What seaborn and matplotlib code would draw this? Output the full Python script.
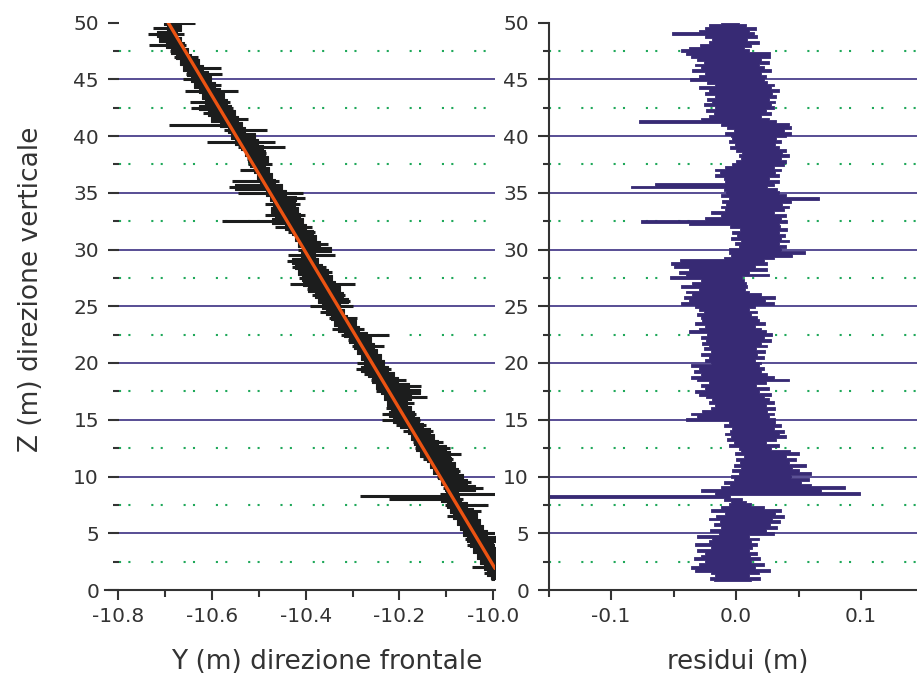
import numpy as np
import pandas as pd
import matplotlib
matplotlib.use("Agg")
import matplotlib.pyplot as plt
import seaborn as sns
from matplotlib.ticker import MultipleLocator, FormatStrFormatter

sns.set_style("white")
plt.rcParams["font.family"] = ["DejaVu Sans"]
plt.rcParams["axes.unicode_minus"] = False

# ------------------------------------------------------------------ data
# linear fit of Y against Z (orange line)
fit_intercept = -9.968
fit_slope = -0.01452
fit_depth = [1.9, 50.1]

# left panel: measured profile, deviation band around the fit (m)
data_depth = [1.0, 1.5, 2.0, 2.5, 3.0, 3.5, 4.0, 4.5, 5.0, 5.5, 6.0, 6.5, 7.0, 7.5, 8.0, 8.25,
              8.5, 9.0, 9.5, 10.0, 10.5, 11.0, 11.5, 12.0, 12.5, 13.0, 13.5, 14.0, 14.5, 15.0,
              15.5, 16.0, 16.5, 17.0, 17.5, 18.0, 18.5, 19.0, 19.5, 20.0, 20.5, 21.0, 21.5,
              22.0, 22.5, 23.0, 23.5, 24.0, 24.5, 25.0, 25.5, 26.0, 26.5, 27.0, 27.5, 28.0,
              28.5, 29.0, 29.5, 30.0, 30.5, 31.0, 31.5, 32.0, 32.5, 33.0, 33.5, 34.0, 34.5,
              35.0, 35.5, 36.0, 36.5, 37.0, 37.5, 38.0, 38.5, 39.0, 39.5, 40.0, 40.5, 41.0,
              41.5, 42.0, 42.5, 43.0, 43.5, 44.0, 44.5, 45.0, 45.5, 46.0, 46.5, 47.0, 47.5,
              48.0, 48.5, 49.0, 49.5, 50.0]
data_dev_lo = [-0.022, -0.030, -0.048, -0.023, -0.023, -0.023, -0.030, -0.026, -0.023, -0.023,
               -0.022, -0.036, -0.022, -0.026, -0.139, -0.196, -0.022, -0.008, -0.004, -0.007,
               -0.007, -0.007, -0.014, -0.014, -0.018, -0.014, -0.011, -0.021, -0.028, -0.052,
               -0.043, -0.028, -0.018, -0.018, -0.028, -0.021, -0.024, -0.031, -0.042, -0.031,
               -0.017, -0.017, -0.020, -0.023, -0.030, -0.041, -0.030, -0.034, -0.045, -0.059,
               -0.035, -0.042, -0.045, -0.073, -0.048, -0.041, -0.048, -0.052, -0.041, -0.013,
               -0.005, -0.005, -0.012, -0.033, -0.140, -0.040, -0.019, -0.026, -0.008, -0.068,
               -0.081, -0.067, -0.006, -0.035, -0.010, -0.006, -0.003, -0.010, -0.070, -0.010,
               -0.019, -0.129, -0.031, -0.042, -0.060, -0.055, -0.022, -0.051, -0.024, -0.040,
               -0.028, -0.026, -0.026, -0.030, -0.033, -0.069, -0.041, -0.058, -0.039, -0.009]
data_dev_hi = [0.010, 0.020, 0.023, 0.030, 0.026, 0.026, 0.052, 0.055, 0.060, 0.027,
               0.028, 0.028, 0.045, 0.067, 0.021, 0.016, 0.099, 0.077, 0.060, 0.050,
               0.050, 0.046, 0.050, 0.074, 0.057, 0.050, 0.039, 0.043, 0.036, 0.029,
               0.028, 0.025, 0.039, 0.074, 0.067, 0.075, 0.050, 0.033, 0.033, 0.026,
               0.026, 0.026, 0.048, 0.026, 0.072, 0.026, 0.016, 0.026, 0.005, 0.033,
               0.033, 0.029, 0.026, 0.065, 0.023, 0.030, 0.026, 0.016, 0.058, 0.058,
               0.059, 0.041, 0.045, 0.045, 0.034, 0.045, 0.038, 0.049, 0.067, 0.070,
               0.033, 0.033, 0.026, 0.026, 0.040, 0.040, 0.043, 0.089, 0.075, 0.040,
               0.073, 0.027, 0.047, 0.026, 0.029, 0.030, 0.024, 0.062, 0.033, 0.020,
               0.050, 0.055, 0.016, 0.020, 0.006, 0.009, 0.005, 0.020, 0.021, 0.058]

# right panel: residuals band (m)
res_depth = [0.75,
             1.0, 1.25, 1.5, 1.75, 2.0, 2.25, 2.5, 2.75, 3.0, 3.25, 3.5, 3.75,
             4.0, 4.25, 4.5, 4.75, 5.0, 5.25, 5.5, 5.75, 6.0, 6.25, 6.5, 6.75,
             7.0, 7.25, 7.5, 7.75, 8.0, 8.25, 8.5, 8.75, 9.0, 9.25, 9.5, 9.75,
             10.0, 10.25, 10.5, 10.75, 11.0, 11.25, 11.5, 11.75, 12.0, 12.25, 12.5, 12.75,
             13.0, 13.25, 13.5, 13.75, 14.0, 14.25, 14.5, 14.75, 15.0, 15.25, 15.5, 15.75,
             16.0, 16.25, 16.5, 16.75, 17.0, 17.25, 17.5, 17.75, 18.0, 18.25, 18.5, 18.75,
             19.0, 19.25, 19.5, 19.75, 20.0, 20.25, 20.5, 20.75, 21.0, 21.25, 21.5, 21.75,
             22.0, 22.25, 22.5, 22.75, 23.0, 23.25, 23.5, 23.75, 24.0, 24.25, 24.5, 24.75,
             25.0, 25.25, 25.5, 25.75, 26.0, 26.25, 26.5, 26.75, 27.0, 27.25, 27.5, 27.75,
             28.0, 28.25, 28.5, 28.75, 29.0, 29.25, 29.5, 29.75, 30.0, 30.25, 30.5, 30.75,
             31.0, 31.25, 31.5, 31.75, 32.0, 32.25, 32.5, 32.75, 33.0, 33.25, 33.5, 33.75,
             34.0, 34.25, 34.5, 34.75, 35.0, 35.25, 35.5, 35.75, 36.0, 36.25, 36.5, 36.75,
             37.0, 37.25, 37.5, 37.75, 38.0, 38.25, 38.5, 38.75, 39.0, 39.25, 39.5, 39.75,
             40.0, 40.25, 40.5, 40.75, 41.0, 41.25, 41.5, 41.75, 42.0, 42.25, 42.5, 42.75,
             43.0, 43.25, 43.5, 43.75, 44.0, 44.25, 44.5, 44.75, 45.0, 45.25, 45.5, 45.75,
             46.0, 46.25, 46.5, 46.75, 47.0, 47.25, 47.5, 47.75, 48.0, 48.25, 48.5, 48.75,
             49.0, 49.25, 49.5, 49.75,
             50.0]
res_lo = [-0.018,
          -0.021, -0.017, -0.020, -0.033, -0.036, -0.030, -0.025, -0.034,
          -0.028, -0.025, -0.031, -0.020, -0.033, -0.022, -0.019, -0.031,
          -0.014, -0.021, -0.012, -0.018, -0.013, -0.022, -0.016, -0.009,
          -0.020, -0.012, -0.006, -0.004, -0.010, -0.190, -0.017, -0.028,
          -0.012, -0.005, -0.010, -0.002, -0.004, 0.002, -0.003, 0.004,
          -0.002, 0.003, 0.000, 0.006, -0.001, 0.004, 0.002, -0.006,
          -0.002, -0.007, -0.004, -0.009, -0.005, -0.003, -0.010, -0.006,
          -0.040, -0.031, -0.036, -0.027, -0.020, -0.017, -0.022, -0.019,
          -0.024, -0.030, -0.033, -0.025, -0.028, -0.022, -0.031, -0.036,
          -0.028, -0.034, -0.030, -0.036, -0.020, -0.025, -0.022, -0.028,
          -0.020, -0.026, -0.022, -0.027, -0.024, -0.028, -0.023, -0.038,
          -0.030, -0.025, -0.033, -0.027, -0.028, -0.031, -0.026, -0.030,
          -0.033, -0.044, -0.038, -0.042, -0.035, -0.040, -0.030, -0.044,
          -0.035, -0.028, -0.053, -0.040, -0.046, -0.038, -0.050, -0.052,
          -0.045, -0.010, -0.004, -0.006, -0.006, 0.002, -0.001, 0.004,
          -0.004, 0.001, -0.003, 0.003, -0.005, -0.038, -0.076, -0.025,
          -0.012, -0.020, -0.009, -0.012, -0.008, -0.011, -0.006, -0.012,
          -0.008, -0.010, -0.084, -0.065, -0.009, -0.010, -0.017, -0.013,
          -0.017, -0.009, -0.003, 0.000, 0.004, 0.002, 0.005, 0.000,
          -0.005, -0.001, -0.006, -0.003, -0.004, -0.009, -0.002, -0.007,
          -0.012, -0.078, -0.028, -0.022, -0.018, -0.024, -0.017, -0.026,
          -0.019, -0.023, -0.017, -0.025, -0.022, -0.030, -0.017, -0.023,
          -0.037, -0.030, -0.025, -0.035, -0.028, -0.033, -0.026, -0.031,
          -0.036, -0.040, -0.044, -0.038, -0.029, -0.022, -0.019, -0.025,
          -0.051, -0.030, -0.025, -0.022,
          -0.012]
res_hi = [0.012,
          0.019, 0.010, 0.018, 0.027, 0.015, 0.022, 0.012, 0.019,
          0.011, 0.017, 0.010, 0.013, 0.017, 0.012, 0.018, 0.010,
          0.030, 0.024, 0.033, 0.027, 0.035, 0.029, 0.038, 0.031,
          0.036, 0.022, 0.012, 0.008, 0.005, -0.005, 0.099, 0.068,
          0.087, 0.060, 0.052, 0.058, 0.044, 0.060, 0.050, 0.045,
          0.056, 0.042, 0.048, 0.040, 0.050, 0.043, 0.028, 0.034,
          0.024, 0.032, 0.040, 0.034, 0.038, 0.030, 0.036, 0.031,
          0.031, 0.026, 0.030, 0.025, 0.031, 0.024, 0.030, 0.026,
          0.022, 0.028, 0.018, 0.026, 0.016, 0.024, 0.042, 0.030,
          0.025, 0.020, 0.022, 0.018, 0.020, 0.015, 0.022, 0.017,
          0.023, 0.016, 0.025, 0.020, 0.028, 0.022, 0.029, 0.024,
          0.020, 0.015, 0.023, 0.018, 0.017, 0.012, 0.017, 0.010,
          0.015, 0.030, 0.023, 0.031, 0.020, 0.010, 0.007, 0.009,
          0.008, 0.006, 0.005, 0.026, 0.010, 0.025, 0.015, 0.025,
          0.022, 0.030, 0.045, 0.055, 0.036, 0.040, 0.034, 0.042,
          0.036, 0.039, 0.034, 0.041, 0.035, 0.034, 0.041, 0.036,
          0.040, 0.030, 0.038, 0.042, 0.037, 0.044, 0.066, 0.040,
          0.034, 0.033, 0.025, 0.030, 0.034, 0.026, 0.034, 0.031,
          0.036, 0.030, 0.038, 0.040, 0.036, 0.042, 0.037, 0.040,
          0.034, 0.031, 0.036, 0.032, 0.040, 0.044, 0.038, 0.044,
          0.042, 0.032, 0.026, 0.020, 0.028, 0.024, 0.030, 0.028,
          0.031, 0.026, 0.032, 0.029, 0.034, 0.028, 0.030, 0.025,
          0.022, 0.024, 0.020, 0.028, 0.022, 0.018, 0.026, 0.020,
          0.027, 0.027, 0.010, 0.006, 0.012, 0.018, 0.009, 0.017,
          0.014, 0.010, 0.016, 0.008,
          0.002]

y_major_ticks = [0, 5, 10, 15, 20, 25, 30, 35, 40, 45, 50]
grid_major = [5, 10, 15, 20, 25, 30, 35, 40, 45]
grid_minor = [2.5, 7.5, 12.5, 17.5, 22.5, 27.5, 32.5, 37.5, 42.5, 47.5]
left_xticks = [-10.8, -10.6, -10.4, -10.2, -10.0]
right_xticks = [-0.1, 0.0, 0.1]

ylabel_text = "Z (m) direzione verticale"
xlabel_left = "Y (m) direzione frontale"
xlabel_right = "residui (m)"

# ------------------------------------------------------------------ style
C_TXT = "#333333"
C_AX = "#333333"
C_NAVY = "#3b2f82"
C_GREEN = "#1fa85a"
C_BLACK = "#1c1d1d"
C_ORANGE = "#ec5312"
C_RES = "#372a74"

W, H = 917, 678
fig = plt.figure(figsize=(W / 100, H / 100), dpi=100)
ax_l = fig.add_axes([118.5 / W, 1 - 590 / H, 376.8 / W, 567.5 / H])
ax_r = fig.add_axes([548.5 / W, 1 - 590 / H, 368.5 / W, 567.5 / H])

for ax in (ax_l, ax_r):
    for g in grid_major:
        ax.axhline(g, color=C_NAVY, lw=1.2, zorder=0.5)
    for g in grid_minor:
        ax.axhline(g, color=C_GREEN, lw=1.5, ls=(0, (1, 3.5, 1, 10)), zorder=0.5)

# left panel: measured band (solid core + thin horizontal excursions) and fit line
df_data = pd.DataFrame({"z": data_depth, "lo": data_dev_lo, "hi": data_dev_hi})
df_data["fit"] = fit_intercept + fit_slope * df_data["z"]
df_data["x_lo"] = df_data["fit"] + df_data["lo"]
df_data["x_hi"] = df_data["fit"] + df_data["hi"]
core_lo = df_data["fit"] + df_data["lo"].rolling(3, center=True, min_periods=1).max()
core_hi = df_data["fit"] + df_data["hi"].rolling(3, center=True, min_periods=1).min()
ax_l.fill_betweenx(df_data["z"], core_lo, core_hi, step="mid",
                   facecolor=C_BLACK, edgecolor=C_BLACK, lw=0.8, zorder=2)
ax_l.hlines(df_data["z"], df_data["x_lo"], df_data["x_hi"], color=C_BLACK, lw=2.2, zorder=2)
df_fit = pd.DataFrame({"z": fit_depth})
df_fit["y"] = fit_intercept + fit_slope * df_fit["z"]
sns.lineplot(data=df_fit, x="y", y="z", sort=False, color=C_ORANGE, lw=2.4, ax=ax_l, zorder=3)

# right panel: residual band
df_res = pd.DataFrame({"z": res_depth, "lo": res_lo, "hi": res_hi})
ax_r.fill_betweenx(df_res["z"], df_res["lo"], df_res["hi"], step="mid",
                   facecolor=C_RES, edgecolor=C_RES, lw=0.6, zorder=2)

ax_l.set_xlim(-10.8, -9.995)
ax_r.set_xlim(-0.15, 0.1448)
for ax in (ax_l, ax_r):
    ax.set_ylim(0, 50)
    ax.set_yticks(y_major_ticks)
    ax.yaxis.set_minor_locator(MultipleLocator(2.5))
    for s in ("top", "right"):
        ax.spines[s].set_visible(False)
    ax.spines["bottom"].set_color(C_AX)
    ax.spines["bottom"].set_linewidth(1.5)
    ax.tick_params(axis="both", which="both", direction="out", colors=C_AX, width=1.5,
                   labelcolor=C_TXT, labelsize=14.5)
    ax.tick_params(axis="y", which="major", length=8, pad=6, left=True)
    ax.tick_params(axis="y", which="minor", length=4, left=True)
    ax.tick_params(axis="x", which="major", length=7, pad=5, bottom=True)
    ax.tick_params(axis="x", which="minor", length=5, bottom=True)
    ax.set_facecolor("white")
    ax.set_xlabel("")
    ax.set_ylabel("")

ax_l.spines["left"].set_visible(False)
ax_r.spines["left"].set_color(C_AX)
ax_r.spines["left"].set_linewidth(1.5)
ax_l.spines["bottom"].set_bounds(-10.828, -9.995)

ax_l.set_xticks(left_xticks)
ax_l.xaxis.set_minor_locator(MultipleLocator(0.1))
ax_l.xaxis.set_major_formatter(FormatStrFormatter("%.1f"))
ax_r.set_xticks(right_xticks)
ax_r.xaxis.set_minor_locator(MultipleLocator(0.05))
ax_r.xaxis.set_major_formatter(FormatStrFormatter("%.1f"))
ax_l.yaxis.set_major_formatter(FormatStrFormatter("%d"))
ax_r.yaxis.set_major_formatter(FormatStrFormatter("%d"))

ax_l.set_xlabel(xlabel_left, fontsize=19, color=C_TXT)
ax_r.set_xlabel(xlabel_right, fontsize=18.7, color=C_TXT)
ax_l.set_ylabel(ylabel_text, fontsize=19, color=C_TXT)
ax_l.xaxis.set_label_coords(0.552, -0.127)
ax_l.xaxis.label.set_verticalalignment("center")
ax_r.xaxis.set_label_coords(0.514, -0.127)
ax_r.xaxis.label.set_verticalalignment("center")
ax_l.yaxis.set_label_coords(-0.232, 0.529)
ax_l.yaxis.label.set_verticalalignment("center")

fig.savefig("out.png", dpi=100, facecolor="white")
